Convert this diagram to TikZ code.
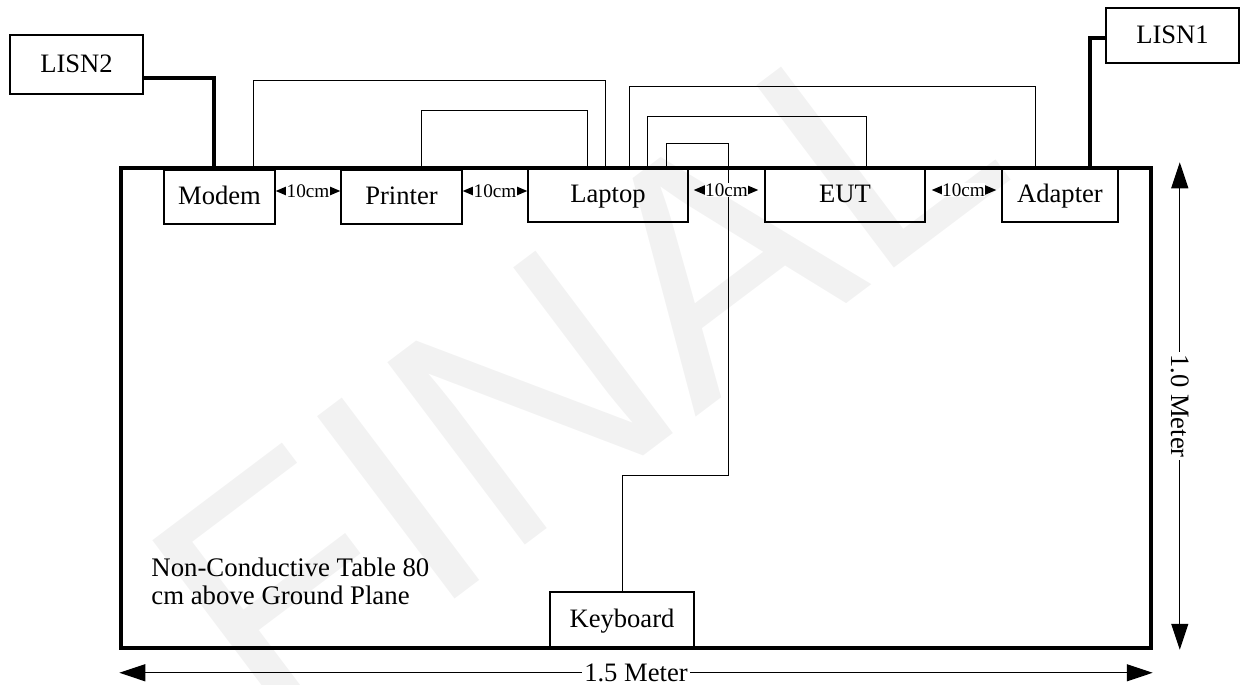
\documentclass[tikz,border=0pt]{standalone}
\usepackage{fontspec}
\setmainfont{Liberation Serif}
\newfontfamily\markfont{Liberation Sans}
\usetikzlibrary{arrows.meta}

\tikzset{
  box/.style={draw, line width=0.75pt, inner sep=0pt, minimum height=27pt, text height=10.5pt, text depth=3pt, font=\fontsize{13.3}{16}\selectfont},
  cable/.style={line width=0.5pt},
  power/.style={line width=1.6pt},
  gap/.style={{Triangle[length=6pt,width=5pt]}-{Triangle[length=6pt,width=5pt]}, line width=0.5pt},
  gaplabel/.style={fill=white, inner sep=0.3pt, font=\fontsize{9.6}{11}\selectfont},
  dim/.style={{Triangle[length=13pt,width=8.5pt]}-{Triangle[length=13pt,width=8.5pt]}, line width=0.6pt},
  dimlabel/.style={fill=white, inner sep=1pt, font=\fontsize{13.3}{16}\selectfont}
}

\begin{document}
\begin{tikzpicture}[x=0.5pt,y=-0.5pt]
\useasboundingbox (0,0) rectangle (1243,685);

\node[rotate=37, text=black!5, font=\markfont\fontsize{166}{166}\selectfont] (mark) at (575,365) {FINAL};

\node[draw, line width=1.75pt, minimum width=515pt, minimum height=240pt] (table) at (636,408) {};

\node[box, minimum width=66.5pt, minimum height=29.5pt] (lisn2) at (76.5,64.5) {LISN2};
\node[box, minimum width=66.5pt, minimum height=27.5pt] (lisn1) at (1172.5,35.5) {LISN1};

\node[box, minimum width=55.5pt] (modem) at (219.5,197) {Modem};
\node[box, minimum width=60.5pt] (printer) at (401.5,197) {Printer};
\node[box, minimum width=80pt] (laptop) at (608,195) {Laptop};
\node[box, minimum width=80pt] (eut) at (845,195) {EUT};
\node[box, minimum width=58pt] (adapter) at (1060,195) {Adapter};
\node[box, minimum width=72pt, minimum height=27.5pt] (keyboard) at (622,619.5) {Keyboard};

\draw[power] ([yshift=-6.75pt]lisn2.east) -| ([xshift=-2.75pt]modem.north);
\draw[power] ([yshift=-1.25pt]lisn1.west) -| ([xshift=15pt]adapter.north);

\draw[cable] ([xshift=16.75pt]modem.north) -- ++(0,-89) -| ([xshift=-1.5pt]laptop.north);
\draw[cable] ([xshift=9.75pt]printer.north) -- ++(0,-59) -| ([xshift=-10.5pt]laptop.north);
\draw[cable] ([xshift=10.5pt]laptop.north) -- ++(0,-81) -| ([xshift=-12.5pt]adapter.north);
\draw[cable] ([xshift=19.5pt]laptop.north) -- ++(0,-51) -| ([xshift=10.5pt]eut.north);
\draw[cable] ([xshift=29pt]laptop.north) -- ++(0,-24) -- ++(62,0) -- ++(0,332) -| (keyboard.north);

\draw[gap] ([yshift=3pt]modem.east) -- ([yshift=3pt]printer.west) node[midway, gaplabel] {10cm};
\draw[gap] ([yshift=3pt]printer.east) -- ([yshift=2pt]laptop.west) node[midway, gaplabel] {10cm};
\draw[gap, shorten <=2.5pt, shorten >=3pt] ([yshift=2.5pt]laptop.east) -- ([yshift=2.5pt]eut.west) node[midway, gaplabel] {10cm};
\draw[gap, shorten <=3pt, shorten >=2.5pt] ([yshift=2.5pt]eut.east) -- ([yshift=2.5pt]adapter.west) node[midway, gaplabel] {10cm};

\node[anchor=north west, inner sep=0pt, align=left, font=\fontsize{13.4}{14}\selectfont] (note) at (151,557) {Non-Conductive Table 80\\cm above Ground Plane};

\draw[dim] ([yshift=-11.5pt]table.south west) -- ([yshift=-11.5pt]table.south east) node[midway, dimlabel] {1.5 Meter};
\draw[dim] ([xshift=13.5pt,yshift=2pt]table.north east) -- ([xshift=13.5pt]table.south east) node[midway, dimlabel, rotate=-90] {1.0 Meter};
\end{tikzpicture}
\end{document}
